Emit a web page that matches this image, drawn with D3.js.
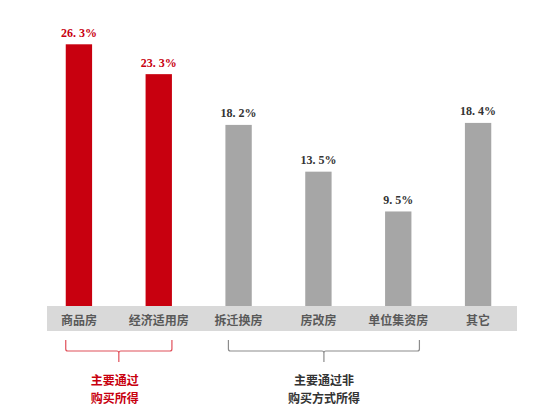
<!DOCTYPE html>
<html>
<head>
<meta charset="utf-8">
<script src="https://cdn.jsdelivr.net/npm/d3@7"></script>
<style>
  body { margin: 0; background: #fff; }
</style>
</head>
<body>
<div class="chart"></div>
<script>
// data
var categories = ["商品房", "经济适用房", "拆迁换房", "房改房", "单位集资房", "其它"];
var values = [26.3, 23.3, 18.2, 13.5, 9.5, 18.4];
var labels = ["26. 3%", "23. 3%", "18. 2%", "13. 5%", "9. 5%", "18. 4%"];
var groupLine1 = ["主要通过", "主要通过非"];
var groupLine2 = ["购买所得", "购买方式所得"];
var groupStart = ["商品房", "拆迁换房"];
var groupEnd = ["经济适用房", "单位集资房"];

var width = 553, height = 410;
var red = "#c8000f", grey = "#a6a6a6";

var svg = d3.select(".chart").append("svg")
    .attr("width", width)
    .attr("height", height);

// scales
var x = d3.scaleBand()
    .domain(categories)
    .range([39, 518])
    .paddingInner(0.67)
    .paddingOuter(0.335);
var y = d3.scaleLinear()
    .domain([0, 26.3])
    .range([306, 44.3]);

// grey category band
svg.append("rect")
    .attr("x", 47)
    .attr("y", 306)
    .attr("width", 470)
    .attr("height", 25)
    .attr("fill", "#d9d9d9");

// bars
svg.selectAll(".bar")
    .data(values)
    .enter().append("rect")
    .attr("class", "bar")
    .attr("x", function (d, i) { return x(categories[i]); })
    .attr("y", function (d) { return y(d); })
    .attr("width", x.bandwidth())
    .attr("height", function (d) { return y(0) - y(d); })
    .attr("fill", function (d, i) { return i < 2 ? red : grey; });

// value labels
svg.selectAll(".val")
    .data(values)
    .enter().append("text")
    .attr("class", "val")
    .attr("x", function (d, i) { return x(categories[i]) + x.bandwidth() / 2; })
    .attr("y", function (d) { return y(d) - 7.5; })
    .attr("text-anchor", "middle")
    .style("font-family", "'Liberation Serif', serif")
    .style("font-weight", "bold")
    .style("font-size", "12px")
    .attr("fill", function (d, i) { return i < 2 ? red : "#333"; })
    .text(function (d, i) { return labels[i]; });

// category labels
svg.selectAll(".cat")
    .data(categories)
    .enter().append("text")
    .attr("class", "cat")
    .attr("x", function (d) { return x(d) + x.bandwidth() / 2; })
    .attr("y", 324.5)
    .attr("text-anchor", "middle")
    .style("font-family", "'Noto Sans CJK SC', sans-serif")
    .style("font-weight", "bold")
    .style("font-size", "12px")
    .attr("fill", "#595959")
    .text(function (d) { return d; });

// brackets
var bracketColor = ["#e0505a", "#8c8c8c"];
var padL = [0, 3], padR = [0, 8];
groupStart.forEach(function (s, i) {
    var x0 = x(s) + padL[i], x1 = x(groupEnd[i]) + x.bandwidth() + padR[i];
    var mx = (x0 + x1) / 2;
    var top = 340, bot = 351, tip = 362;
    svg.append("path")
        .attr("d", "M" + x0 + "," + top + " L" + x0 + "," + (bot - 2) +
            " Q" + x0 + "," + bot + " " + (x0 + 2) + "," + bot +
            " L" + (mx - 2) + "," + bot + " Q" + mx + "," + bot + " " + mx + "," + (bot + 2) +
            " L" + mx + "," + tip +
            " M" + mx + "," + (bot + 2) + " Q" + mx + "," + bot + " " + (mx + 2) + "," + bot +
            " L" + (x1 - 2) + "," + bot + " Q" + x1 + "," + bot + " " + x1 + "," + (bot - 2) +
            " L" + x1 + "," + top)
        .attr("fill", "none")
        .attr("stroke", bracketColor[i])
        .attr("stroke-width", 1.2);

    var tx = mx - (i == 0 ? 4 : 0);
    [groupLine1[i], groupLine2[i]].forEach(function (t, j) {
        svg.append("text")
            .attr("x", tx)
            .attr("y", 385 + j * 17.5)
            .attr("text-anchor", "middle")
            .style("font-family", "'Noto Sans CJK SC', sans-serif")
            .style("font-weight", "bold")
            .style("font-size", "12px")
            .attr("fill", i == 0 ? red : "#333")
            .text(t);
    });
});
</script>
</body>
</html>
